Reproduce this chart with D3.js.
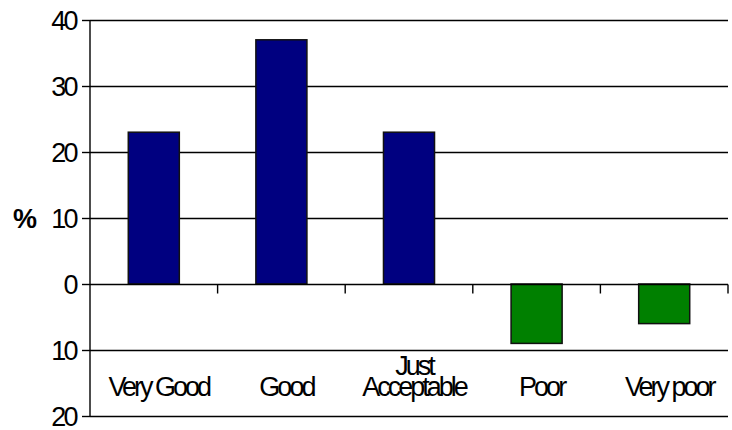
<!DOCTYPE html>
<html>
<head>
<meta charset="utf-8">
<script src="https://cdn.jsdelivr.net/npm/d3@7"></script>
<style>
  html, body { margin: 0; padding: 0; background: #fff; }
  svg text { font-family: "Liberation Sans", Arial, sans-serif; fill: #000; }
</style>
</head>
<body>
<svg id="chart" width="732" height="430"></svg>
<script>
// Rating categories and the share of answers (%) for each
const categories = ["Very Good", "Good", "Just Acceptable", "Poor", "Very poor"];
const values = [23, 37, 23, -9, -6];
const yTicks = [40, 30, 20, 10, 0, -10, -20];
const yTickLabels = ["40", "30", "20", "10", "0", "10", "20"];
// wrapped lines for the category labels
const categoryLines = [["Very Good"], ["Good"], ["Just", "Acceptable"], ["Poor"], ["Very poor"]];

const svg = d3.select("#chart");
const plotLeft = 90, plotRight = 728, plotTop = 20, plotBottom = 416;

const x = d3.scaleBand().domain(categories).range([plotLeft, plotRight]).padding(0);
const y = d3.scaleLinear().domain([-20, 40]).range([plotBottom, plotTop]);
const barFrac = 0.4;

// horizontal gridlines
svg.append("g").selectAll("line").data(yTicks.filter(d => d !== 0)).join("line")
  .attr("x1", plotLeft).attr("x2", plotRight)
  .attr("y1", d => Math.round(y(d)) + 0.5).attr("y2", d => Math.round(y(d)) + 0.5)
  .attr("stroke", "#000").attr("stroke-width", 1.4);

// bars
svg.append("g").selectAll("rect").data(categories).join("rect")
  .attr("x", (d) => x(d) + x.bandwidth() * (1 - barFrac) / 2)
  .attr("width", x.bandwidth() * barFrac)
  .attr("y", (d, i) => y(Math.max(0, values[i])))
  .attr("height", (d, i) => Math.abs(y(values[i]) - y(0)))
  .attr("fill", (d, i) => values[i] >= 0 ? "#000080" : "#008000")
  .attr("stroke", "#111").attr("stroke-width", 1.5);

// zero line with category separators
const zy = Math.round(y(0)) + 0.5;
svg.append("line").attr("x1", plotLeft).attr("x2", plotRight).attr("y1", zy).attr("y2", zy)
  .attr("stroke", "#000").attr("stroke-width", 1.4);
svg.append("g").selectAll("line").data(categories).join("line")
  .attr("x1", d => x(d) + x.bandwidth()).attr("x2", d => x(d) + x.bandwidth())
  .attr("y1", zy).attr("y2", zy + 9)
  .attr("stroke", "#000").attr("stroke-width", 1.4);

// y axis
const yAxis = d3.axisLeft(y).tickValues(yTicks)
  .tickFormat((d, i) => yTickLabels[i]).tickSize(8).tickPadding(6);
const ga = svg.append("g").attr("transform", `translate(${plotLeft},0)`).call(yAxis);
ga.select(".domain").attr("stroke", "#000").attr("stroke-width", 1.4)
  .attr("d", `M0,${plotTop}V${plotBottom}`);
ga.selectAll(".tick line").attr("stroke", "#000").attr("stroke-width", 1.4);
ga.selectAll(".tick text").attr("font-size", 27).attr("letter-spacing", "-2.6px")
  .attr("dy", "0.35em")
  .attr("font-family", "Liberation Sans, Arial, sans-serif").attr("fill", "#000");

// axis title
svg.append("text").attr("x", 37).attr("y", y(10)).attr("dy", "0.36em")
  .attr("text-anchor", "end").attr("font-size", 27).attr("font-weight", "bold")
  .text("%");

// category labels
const lab = svg.append("g").selectAll("text").data(categories).join("text")
  .attr("text-anchor", "middle").attr("font-size", 27).attr("letter-spacing", "-3px")
  .attr("transform", d => `translate(${x(d) + x.bandwidth() / 2 + 5},0)`);
lab.each(function (d, i) {
  const lines = categoryLines[i];
  const t = d3.select(this);
  const base = 396 - (lines.length - 1) * 21;
  lines.forEach((l, k) => {
    t.append("tspan").attr("x", 0).attr("y", base + k * 21).text(l);
  });
});
</script>
</body>
</html>
